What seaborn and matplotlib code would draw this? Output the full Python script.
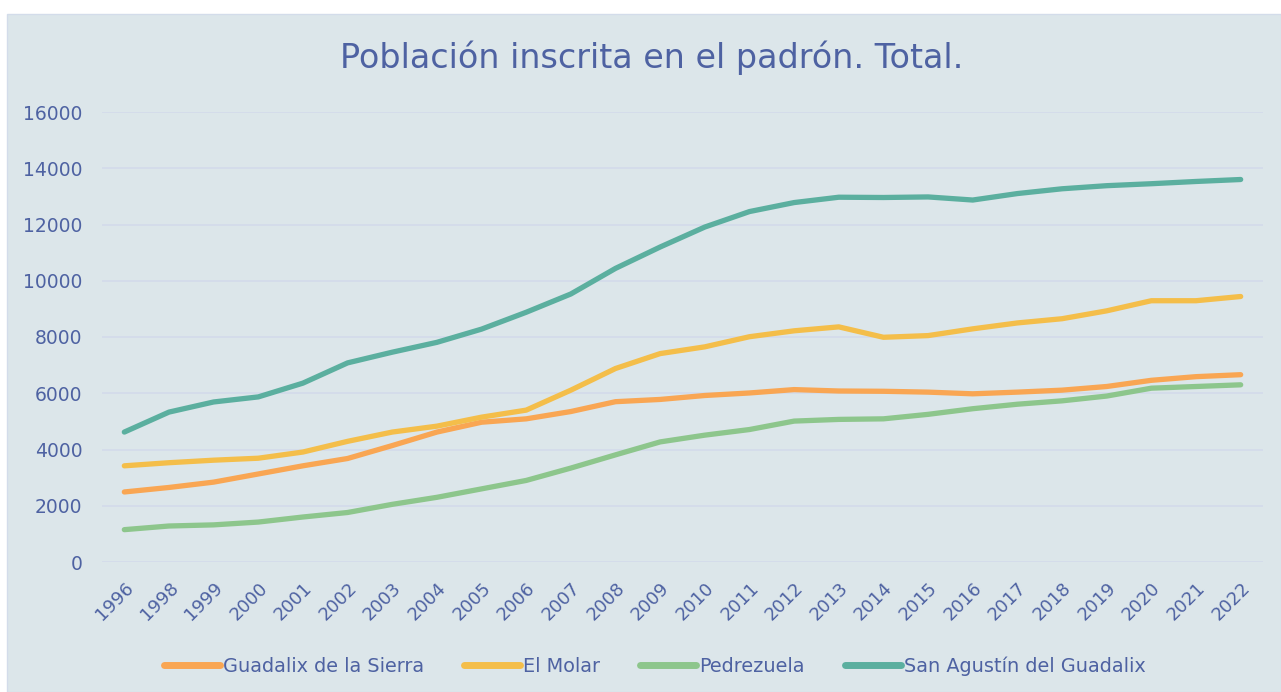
import pandas as pd
import seaborn as sns
import matplotlib.pyplot as plt
from matplotlib.patches import Rectangle

# Años del padrón (no hay dato de 1997)
years = ['1996', '1998', '1999', '2000', '2001', '2002', '2003', '2004', '2005',
         '2006', '2007', '2008', '2009', '2010', '2011', '2012', '2013', '2014',
         '2015', '2016', '2017', '2018', '2019', '2020', '2021', '2022']

guadalix = [2490, 2650, 2840, 3130, 3420, 3680, 4140, 4620, 4970, 5090, 5350, 5700, 5780,
            5920, 6010, 6130, 6080, 6070, 6040, 5980, 6040, 6110, 6240, 6460, 6590, 6660]
el_molar = [3420, 3530, 3620, 3690, 3910, 4290, 4620, 4830, 5150, 5400, 6110, 6880, 7410,
            7650, 8010, 8220, 8360, 7990, 8050, 8290, 8500, 8650, 8930, 9290, 9290, 9440]
pedrezuela = [1150, 1280, 1320, 1420, 1600, 1760, 2050, 2300, 2600, 2900, 3340, 3810, 4270,
              4510, 4710, 5010, 5070, 5090, 5250, 5450, 5610, 5730, 5900, 6180, 6240, 6300]
san_agustin = [4620, 5330, 5690, 5870, 6360, 7080, 7460, 7810, 8280, 8880, 9530, 10440, 11200,
               11910, 12460, 12780, 12970, 12960, 12980, 12870, 13100, 13270, 13380, 13450, 13530, 13600]

series = ['Guadalix de la Sierra', 'El Molar', 'Pedrezuela', 'San Agustín del Guadalix']
colors = ['#F9A653', '#F4BE4A', '#8DC68C', '#5BAF9F']

df = pd.DataFrame({'Año': years * 4,
                   'Población': guadalix + el_molar + pedrezuela + san_agustin,
                   'Municipio': [s for s in series for _ in years]})

bg = '#DCE6EA'
txt = '#4E62A2'

sns.set_theme(style='white')
plt.rcParams['font.family'] = ['DejaVu Sans']

fig = plt.figure(figsize=(12.81, 6.92), dpi=100, facecolor='white')
# panel de fondo (con el margen blanco arriba y a la izquierda)
panel = Rectangle((7 / 1281, 0), 1 - 7 / 1281, 1 - 14 / 692, transform=fig.transFigure,
                  facecolor=bg, edgecolor='#D3DCEA', lw=1, zorder=-10)
fig.patches.append(panel)

ax = fig.add_axes([102 / 1281, 1 - 562 / 692, (1263 - 102) / 1281, 450 / 692])
ax.set_facecolor(bg)

sns.lineplot(data=df, x='Año', y='Población', hue='Municipio', palette=colors,
             linewidth=3.8, sort=False, ax=ax, solid_capstyle='round')

ax.set_xlim(-0.5, len(years) - 0.5)
ax.set_ylim(0, 16000)
ax.set_yticks(range(0, 16001, 2000))
ax.grid(axis='y', color='#D3DBEA', lw=1.2)
ax.set_axisbelow(True)
for s in ax.spines.values():
    s.set_visible(False)
ax.set_xlabel('')
ax.set_ylabel('')
ax.tick_params(axis='y', length=0, labelsize=13.5, labelcolor=txt, pad=14)
ax.tick_params(axis='x', length=0, labelsize=13, labelcolor=txt, pad=12)
plt.setp(ax.get_xticklabels(), rotation=45, ha='right', rotation_mode='anchor')

fig.text(0.509, 1 - 58 / 692, 'Población inscrita en el padrón. Total.', ha='center', va='center',
         fontsize=24, color=txt)

handles, labels = ax.get_legend_handles_labels()
leg_y = ((1 - 666 / 692) - (1 - 562 / 692)) / (450 / 692)
ax.legend(handles, labels, loc='center', bbox_to_anchor=(0.476, leg_y),
          ncol=4, frameon=False, fontsize=13.9, labelcolor=txt, handlelength=2.9,
          handletextpad=0.16, columnspacing=2.07)
for line in ax.get_legend().get_lines():
    line.set_linewidth(5)
    line.set_solid_capstyle('round')

fig.savefig('out.png', dpi=100, facecolor='white')
